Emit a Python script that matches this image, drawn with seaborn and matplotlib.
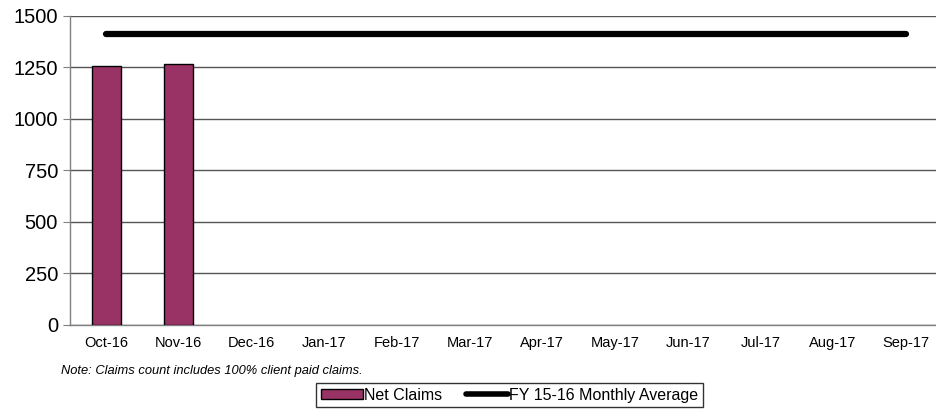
import numpy as np
import pandas as pd
import matplotlib
matplotlib.use('Agg')
import matplotlib.pyplot as plt
import seaborn as sns
from matplotlib.patches import Patch
from matplotlib.lines import Line2D

# chart data
months = ['Oct-16', 'Nov-16', 'Dec-16', 'Jan-17', 'Feb-17', 'Mar-17',
          'Apr-17', 'May-17', 'Jun-17', 'Jul-17', 'Aug-17', 'Sep-17']
net_claims = [1257, 1267, np.nan, np.nan, np.nan, np.nan,
              np.nan, np.nan, np.nan, np.nan, np.nan, np.nan]
fy_average = [1413] * 12
y_ticks = [0, 250, 500, 750, 1000, 1250, 1500]

sns.set_style('white')
plt.rcParams['font.family'] = ['Liberation Sans', 'DejaVu Sans']
plt.rcParams['text.color'] = 'black'
plt.rcParams['xtick.labelcolor'] = 'black'
plt.rcParams['ytick.labelcolor'] = 'black'

df = pd.DataFrame({'month': months, 'claims': net_claims, 'avg': fy_average})

fig = plt.figure(figsize=(9.37, 4.12), dpi=100)
ax = fig.add_axes([0.0745, 0.2112, 0.931, 0.75])

sns.barplot(data=df, x='month', y='claims', color='#993366', saturation=1,
            width=0.4, edgecolor='black', linewidth=1, ax=ax, zorder=3)
sns.lineplot(x=np.arange(len(months)), y=df['avg'], color='black',
             linewidth=4.5, ax=ax, zorder=4)

ax.set_xlim(-0.5, len(months) - 0.5)
ax.set_ylim(0, 1500)
ax.set_yticks(y_ticks)
ax.set_yticklabels([str(t) for t in y_ticks], fontsize=14.5)
ax.set_xlabel('')
ax.set_ylabel('')

# gridlines
ax.yaxis.grid(True, color='#555555', linewidth=1)
ax.set_axisbelow(True)

# x tick labels centred, tick marks at category boundaries
ax.set_xticks(np.arange(len(months)))
ax.set_xticklabels(months, fontsize=10.5)
ax.tick_params(axis='x', length=0, pad=8)
ax.set_xticks(np.arange(len(months) + 1) - 0.5, minor=True)
ax.tick_params(axis='x', which='minor', length=5, color='#808080', direction='out')
ax.tick_params(axis='y', length=5, color='#808080', direction='out', left=True)

for side in ['top', 'right']:
    ax.spines[side].set_visible(False)
for side in ['left', 'bottom']:
    ax.spines[side].set_color('#808080')
    ax.spines[side].set_linewidth(1)

fig.text(0.065, 0.1, 'Note: Claims count includes 100% client paid claims.',
         fontsize=9.3, style='italic', ha='left', va='center')

handles = [Patch(facecolor='#993366', edgecolor='black', label='Net Claims'),
           Line2D([0], [0], color='black', linewidth=4, label='FY 15-16 Monthly Average')]
leg = fig.legend(handles=handles, loc='center', bbox_to_anchor=(0.544, 0.041),
                 ncol=2, frameon=True, fancybox=False, fontsize=11.5,
                 handlelength=2.6, handleheight=0.6, handletextpad=0.1,
                 columnspacing=1.5, borderpad=0.3)
leg.get_frame().set_edgecolor('black')
leg.get_frame().set_linewidth(1)

fig.savefig('out.png', dpi=100)
